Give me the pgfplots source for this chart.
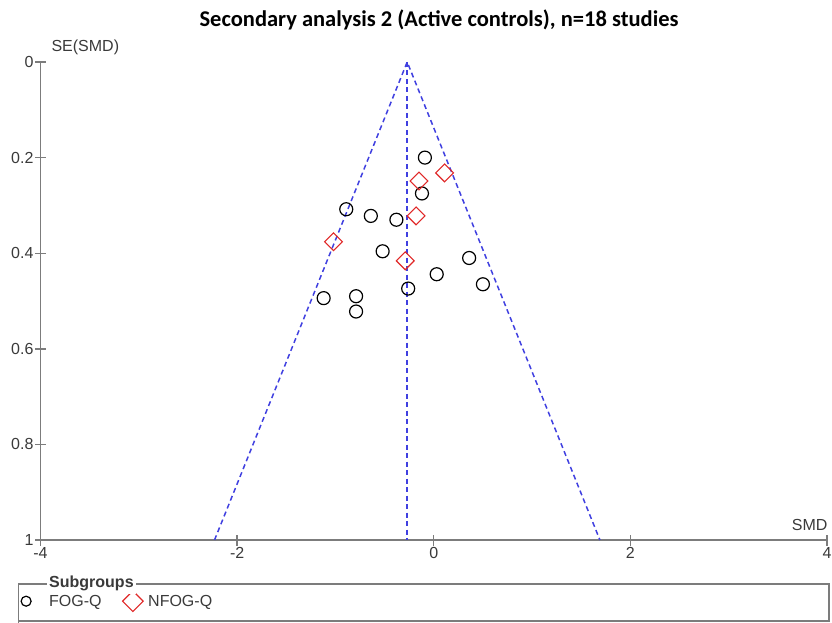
\documentclass[border=0pt]{standalone}
\usepackage{fontspec}
\setmainfont{Liberation Sans}
\newfontfamily\titlefont{Carlito}
\usepackage{pgfplots}
\pgfplotsset{compat=1.18}

\definecolor{axisgray}{HTML}{7C7C7C}
\definecolor{textgray}{HTML}{3A3A3A}
\definecolor{funnelblue}{HTML}{4040E0}
\definecolor{nfogred}{HTML}{E02828}

% FOG-Q subgroup: SMD, SE(SMD)
\pgfplotstableread{
smd    se
-0.09  0.200
-0.12  0.275
-0.89  0.308
-0.64  0.322
-0.38  0.330
-0.52  0.396
 0.36  0.410
 0.03  0.444
 0.50  0.465
-0.26  0.474
-1.12  0.494
-0.79  0.490
-0.79  0.522
}\fogq

% NFOG-Q subgroup: SMD, SE(SMD)
\pgfplotstableread{
smd    se
 0.11  0.232
-0.15  0.249
-0.18  0.322
-1.02  0.376
-0.29  0.416
}\nfogq

\newcommand\lblfont{\fontsize{16}{18}\selectfont}

\begin{document}
\begin{tikzpicture}[x=1pt,y=1pt]
\path[use as bounding box] (0,0) rectangle (832,623);
\begin{axis}[
  at={(40.5pt,83pt)}, anchor=south west,
  scale only axis, width=786.5pt, height=478pt,
  xmin=-4, xmax=4, ymin=0, ymax=1, y dir=reverse,
  axis x line*=bottom, axis y line*=left,
  axis line style={-, draw=axisgray, line width=1.6pt},
  tick style={draw=axisgray, line width=1.4pt},
  tick align=center, major tick length=11pt,
  xtick={-4,-2,0,2,4}, xticklabels={-4,-2,0,2,4},
  ytick={0,0.2,0.4,0.6,0.8,1}, yticklabels={0,0.2,0.4,0.6,0.8,1},
  ticklabel style={font=\lblfont, text=textgray},
  xticklabel style={yshift=2pt},
  yticklabel style={xshift=2pt},
  clip=false,
  legend style={at={(axis description cs:-0.0287,-0.128)}, anchor=west,
    draw=none, fill=none, legend columns=2,
    font=\lblfont, text=textgray,
    /tikz/every even column/.append style={column sep=19pt}},
  legend image code/.code={\draw[#1] plot coordinates {(0pt,0pt)};},
  legend cell align=left,
]
% funnel and pooled estimate
\addplot[funnelblue, dash pattern=on 5pt off 3.5pt, line width=1.5pt, forget plot]
  coordinates {(-2.23,1) (-0.27,0) (1.69,1)};
\addplot[funnelblue, dash pattern=on 5pt off 3.5pt, line width=1.5pt, forget plot]
  coordinates {(-0.27,0) (-0.27,1)};
% studies
\addplot[only marks, mark=o, mark size=6.5pt, black, line width=1.2pt,
  legend image post style={mark size=5pt}]
  table[x=smd, y=se] {\fogq};
\addlegendentry{\hspace{16pt}FOG-Q}
\addplot[only marks, mark=square, mark size=6.3pt, nfogred, line width=1.1pt,
  mark options={rotate=45}, legend image post style={mark size=7.3pt}]
  table[x=smd, y=se] {\nfogq};
\addlegendentry{\hspace{3pt}NFOG-Q}
\end{axis}
% title and axis names
\node[font=\titlefont\bfseries\fontsize{22.5}{24}\selectfont, text=black] at (439,603) {Secondary analysis 2 (Active controls), n=18 studies};
\node[anchor=west, font=\lblfont, text=textgray] at (48,576) {SE(SMD)};
\node[anchor=east, font=\lblfont, text=textgray] at (831,98) {SMD};
% legend frame
\draw[axisgray, line width=1.4pt] (18.5,0) -- (18.5,39) -- (829,39) -- (829,2) -- (18.5,2);
\node[anchor=west, fill=white, inner xsep=2pt, font=\bfseries\lblfont, text=textgray] at (47,39.5) {Subgroups};
\end{tikzpicture}
\end{document}
